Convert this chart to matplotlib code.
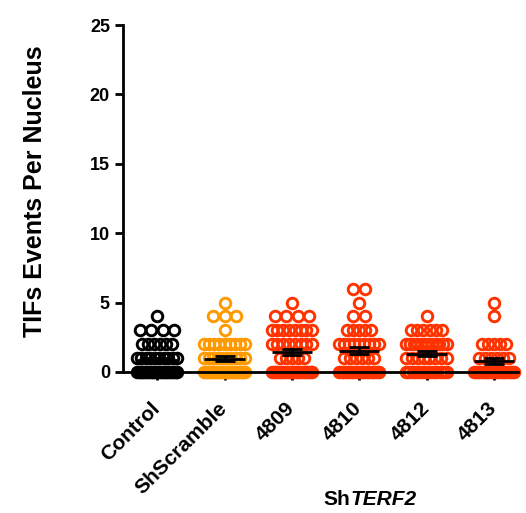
import numpy as np
import matplotlib
matplotlib.use("Agg")
import matplotlib.pyplot as plt

plt.rcParams["font.family"] = ["Liberation Sans", "DejaVu Sans"]
plt.rcParams["font.weight"] = "bold"

groups = ["Control", "ShScramble", "4809", "4810", "4812", "4813"]
colors = ["#000000", "#FF9900", "#FF3300", "#FF3300", "#FF3300", "#FF3300"]

# number of nuclei with 0,1,2,... TIF events, per group
levels = [0, 1, 2, 3, 4, 5, 6]
counts_control = [23, 10, 6, 4, 1, 0, 0]
counts_scramble = [27, 10, 9, 1, 3, 1, 0]
counts_4809 = [20, 5, 8, 8, 4, 1, 0]
counts_4810 = [17, 6, 9, 5, 2, 1, 2]
counts_4812 = [14, 8, 12, 6, 1, 0, 0]
counts_4813 = [19, 6, 5, 0, 1, 1, 0]
all_counts = [counts_control, counts_scramble, counts_4809,
              counts_4810, counts_4812, counts_4813]


def row_offsets(n):
    # spread the points of one level side by side, like a scatter dot plot
    if n <= 1:
        return np.zeros(n)
    if n <= 4:
        half = min(0.31, 0.085 * (n - 1))
    else:
        half = min(0.3, 0.045 * (n - 1))
    return np.linspace(-half, half, n)


fig = plt.figure(figsize=(5.26, 5.13), dpi=100)
ax = fig.add_axes([0.234, 0.275, 0.751, 0.676])

for i, (cnts, col) in enumerate(zip(all_counts, colors)):
    xs, ys = [], []
    for lv, n in zip(levels, cnts):
        xs.extend(i + row_offsets(n))
        ys.extend([lv] * n)
    ax.plot(xs, ys, "o", ms=7.6, mfc="none", mec=col, mew=2.1,
            clip_on=False, zorder=2)
    vals = np.array(ys, dtype=float)
    mean = vals.mean()
    sem = vals.std(ddof=1) / np.sqrt(len(vals))
    ax.hlines(mean, i - 0.3, i + 0.3, color="black", lw=2, zorder=3)
    ax.errorbar(i, mean, yerr=sem, fmt="none", ecolor="black",
                elinewidth=2, capsize=7, capthick=2, zorder=3)

ax.set_xlim(-0.506, 5.36)
ax.set_ylim(0, 25)
ax.set_yticks([0, 5, 10, 15, 20, 25])
ax.set_xticks(range(len(groups)))
ax.set_xticklabels(groups, rotation=45, ha="right", va="center",
                   rotation_mode="anchor", fontsize=15, fontweight="bold")
for lab in ax.get_yticklabels():
    lab.set_fontsize(13)
    lab.set_fontweight("bold")

for s in ["top", "right"]:
    ax.spines[s].set_visible(False)
for s in ["left", "bottom"]:
    ax.spines[s].set_linewidth(2)
ax.tick_params(width=2, length=6, direction="out")
ax.tick_params(axis="x", pad=18)

ax.set_ylabel("TIFs Events Per Nucleus", fontsize=18, fontweight="bold")
ax.yaxis.set_label_coords(-0.192, 0.52)

fig.text(0.666, 0.016, "Sh", fontsize=15, fontweight="bold", ha="right")
fig.text(0.666, 0.016, "TERF2", fontsize=15, fontweight="bold",
         fontstyle="italic", ha="left")

fig.savefig("out.png", dpi=100)
